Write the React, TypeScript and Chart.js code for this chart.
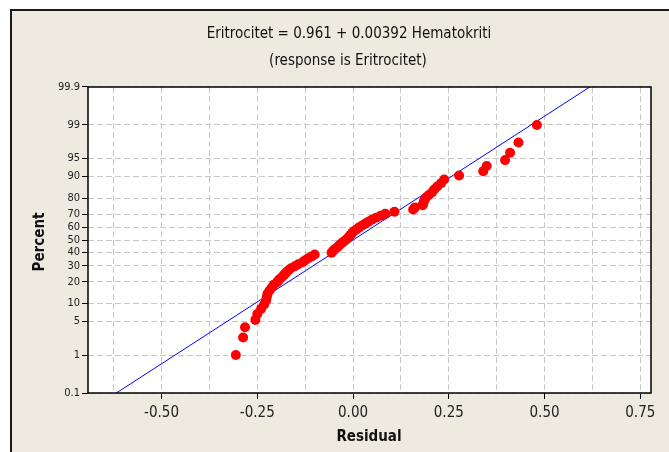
import React, { useEffect, useRef } from "react";
import { Chart, registerables } from "chart.js";

Chart.register(...registerables);

// ---- data ----
const residuals = [
  -0.306, -0.287, -0.282, -0.255, -0.25, -0.24, -0.232, -0.227, -0.225, -0.223,
  -0.218, -0.212, -0.207, -0.198, -0.193, -0.186, -0.18, -0.175, -0.169, -0.162,
  -0.152, -0.143, -0.132, -0.125, -0.117, -0.108, -0.1, -0.056, -0.052, -0.047,
  -0.041, -0.036, -0.031, -0.025, -0.019, -0.014, -0.01, -0.006, -0.002, 0.003,
  0.01, 0.016, 0.024, 0.032, 0.04, 0.049, 0.06, 0.072, 0.084, 0.108,
  0.157, 0.162, 0.182, 0.184, 0.186, 0.19, 0.197, 0.206, 0.212, 0.22,
  0.23, 0.238, 0.277, 0.34, 0.349, 0.397, 0.41, 0.432, 0.48,
];
const percents = [
  1.01, 2.45, 3.89, 5.33, 6.77, 8.21, 9.65, 11.1, 12.54, 13.98,
  15.42, 16.86, 18.3, 19.74, 21.18, 22.62, 24.06, 25.5, 26.95, 28.39,
  29.83, 31.27, 32.71, 34.15, 35.59, 37.03, 38.47, 39.91, 41.35, 42.8,
  44.24, 45.68, 47.12, 48.56, 50.0, 51.44, 52.88, 54.32, 55.76, 57.2,
  58.65, 60.09, 61.53, 62.97, 64.41, 65.85, 67.29, 68.73, 70.17, 71.61,
  73.05, 74.5, 75.94, 77.38, 78.82, 80.26, 81.7, 83.14, 84.58, 86.02,
  87.46, 88.9, 90.35, 91.79, 93.23, 94.67, 96.11, 97.55, 98.99,
];
const fitLineX = [-0.618, 0.618];
const fitLineP = [0.1, 99.9];
const yTickPercents = [0.1, 1, 5, 10, 20, 30, 40, 50, 60, 70, 80, 90, 95, 99, 99.9];
const yTickLabels = ["0.1", "1", "5", "10", "20", "30", "40", "50", "60", "70", "80", "90", "95", "99", "99.9"];
const xGridValues = [-0.625, -0.5, -0.375, -0.25, -0.125, 0, 0.125, 0.25, 0.375, 0.5, 0.625, 0.75];
const xTickLabels = ["", "-0.50", "", "-0.25", "", "0.00", "", "0.25", "", "0.50", "", "0.75"];
const titleText = "Eritrocitet = 0.961 + 0.00392 Hematokriti";
const subtitleText = "(response is Eritrocitet)";
const xTitle = "Residual";
const yTitle = "Percent";

// inverse standard normal CDF (probability-plot scale transform)
function probit(p: number): number {
  const a = [-39.69683028665376, 220.9460984245205, -275.9285104469687, 138.357751867269, -30.66479806614716, 2.506628277459239];
  const b = [-54.47609879822406, 161.5858368580409, -155.6989798598866, 66.80131188771972, -13.28068155288572];
  const c = [-0.007784894002430293, -0.3223964580411365, -2.400758277161838, -2.549732539343734, 4.374664141464968, 2.938163982698783];
  const d = [0.007784695709041462, 0.3224671290700398, 2.445134137142996, 3.754408661907416];
  const pl = 0.02425;
  if (p < pl) {
    const q = Math.sqrt(-2 * Math.log(p));
    return (((((c[0] * q + c[1]) * q + c[2]) * q + c[3]) * q + c[4]) * q + c[5]) / ((((d[0] * q + d[1]) * q + d[2]) * q + d[3]) * q + 1);
  }
  if (p > 1 - pl) {
    const q = Math.sqrt(-2 * Math.log(1 - p));
    return -(((((c[0] * q + c[1]) * q + c[2]) * q + c[3]) * q + c[4]) * q + c[5]) / ((((d[0] * q + d[1]) * q + d[2]) * q + d[3]) * q + 1);
  }
  const q = p - 0.5;
  const r = q * q;
  return ((((((a[0] * r + a[1]) * r + a[2]) * r + a[3]) * r + a[4]) * r + a[5]) * q) / (((((b[0] * r + b[1]) * r + b[2]) * r + b[3]) * r + b[4]) * r + 1);
}

const FONT = '"Liberation Sans Narrow", "DejaVu Sans Condensed", "DejaVu Sans", sans-serif';
const BEIGE = "#eeeae0";

const framePlugin = {
  id: "frame",
  beforeDraw(chart: any) {
    const { ctx, width, height, chartArea } = chart;
    ctx.save();
    ctx.fillStyle = "#ffffff";
    ctx.fillRect(0, 0, width, height);
    ctx.fillStyle = BEIGE;
    ctx.fillRect(11, 10, width - 11, height - 10);
    ctx.strokeStyle = "#1a1a1a";
    ctx.lineWidth = 2;
    ctx.beginPath();
    ctx.moveTo(11, height);
    ctx.lineTo(11, 10);
    ctx.lineTo(width, 10);
    ctx.stroke();
    ctx.fillStyle = "#ffffff";
    ctx.fillRect(chartArea.left, chartArea.top, chartArea.right - chartArea.left, chartArea.bottom - chartArea.top);
    ctx.restore();
  },
  afterDraw(chart: any) {
    const { ctx, chartArea } = chart;
    ctx.save();
    ctx.strokeStyle = "#000000";
    ctx.lineWidth = 1.5;
    ctx.strokeRect(chartArea.left, chartArea.top, chartArea.right - chartArea.left, chartArea.bottom - chartArea.top);
    ctx.fillStyle = "#111111";
    ctx.textAlign = "center";
    ctx.textBaseline = "middle";
    ctx.font = "15px " + FONT;
    ctx.fillText(titleText, 349, 34);
    ctx.fillText(subtitleText, 348, 61);
    ctx.font = "bold 15px " + FONT;
    ctx.fillText(xTitle, 369, 437);
    ctx.translate(40, 242);
    ctx.rotate(-Math.PI / 2);
    ctx.fillText(yTitle, 0, 0);
    ctx.restore();
  },
};

export default function App() {
  const canvasRef = useRef<HTMLCanvasElement | null>(null);

  useEffect(() => {
    const canvas = canvasRef.current;
    if (!canvas) return;
    const zMin = probit(0.001);
    const zMax = probit(0.999);
    const chart = new Chart(canvas, {
      type: "scatter",
      data: {
        datasets: [
          {
            type: "scatter",
            data: residuals.map((r, i) => ({ x: r, y: probit(percents[i] / 100) })),
            backgroundColor: "#ff0000",
            borderColor: "#ff0000",
            borderWidth: 0,
            pointRadius: 5,
            order: 0,
          },
          {
            type: "line",
            data: fitLineX.map((x, i) => ({ x, y: probit(fitLineP[i] / 100) })),
            borderColor: "#0000ff",
            borderWidth: 1,
            pointRadius: 0,
            fill: false,
            order: 1,
          } as any,
        ],
      },
      options: {
        animation: false,
        responsive: false,
        devicePixelRatio: 1,
        layout: { padding: { left: 28, top: 87, right: 18, bottom: 0 } },
        plugins: { legend: { display: false }, tooltip: { enabled: false } },
        scales: {
          x: {
            type: "linear",
            min: -0.692,
            max: 0.778,
            afterBuildTicks: (s: any) => {
              s.ticks = xGridValues.map((v) => ({ value: v }));
            },
            afterFit: (s: any) => {
              s.height = 59;
            },
            ticks: {
              autoSkip: false,
              maxRotation: 0,
              padding: 5,
              color: "#222222",
              font: { family: FONT, size: 15 },
              callback: (_v: any, i: number) => xTickLabels[i],
            },
            grid: {
              color: "#c8c8c8",
              lineWidth: 1,
              tickLength: 6,
              tickColor: (ctx: any) => (xTickLabels[ctx.index] ? "#000000" : "rgba(0,0,0,0)"),
            },
            border: { display: false, dash: [6, 3] },
          },
          y: {
            type: "linear",
            min: zMin,
            max: zMax,
            afterBuildTicks: (s: any) => {
              s.ticks = yTickPercents.map((p) => ({ value: probit(p / 100) }));
            },
            afterFit: (s: any) => {
              s.width = 60;
            },
            ticks: {
              autoSkip: false,
              padding: 2,
              color: "#222222",
              font: { family: FONT, size: 11 },
              callback: (_v: any, i: number) => yTickLabels[i],
            },
            grid: {
              color: "#c8c8c8",
              lineWidth: 1,
              tickLength: 6,
              tickColor: "#000000",
            },
            border: { display: false, dash: [6, 3] },
          },
        },
      },
      plugins: [framePlugin],
    });
    return () => chart.destroy();
  }, []);

  return (
    <div style={{ position: "absolute", left: 0, top: 0, width: 669, height: 452 }}>
      <canvas ref={canvasRef} width={669} height={452} style={{ display: "block", width: 669, height: 452 }} />
    </div>
  );
}
